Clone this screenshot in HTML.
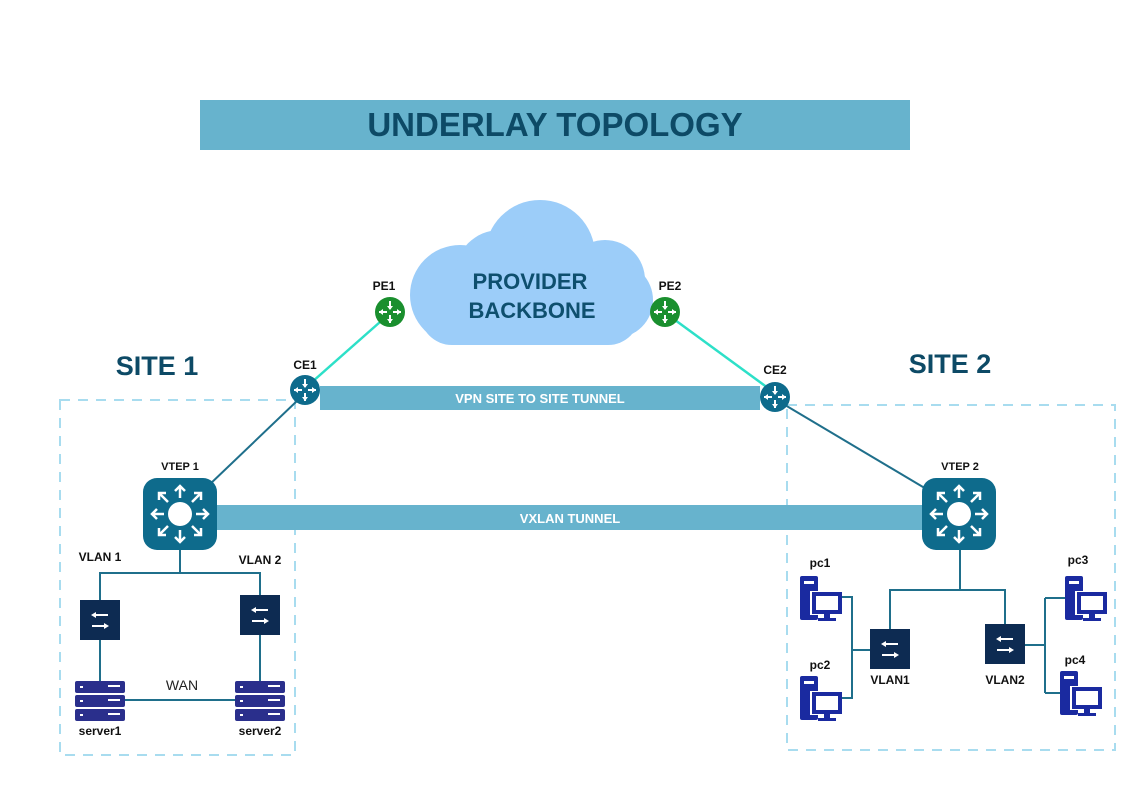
<!DOCTYPE html>
<html><head><meta charset="utf-8"><style>
html,body{margin:0;padding:0;background:#fff;}
svg{display:block;font-family:"Liberation Sans",Arial,sans-serif;}
</style></head><body>
<svg width="1123" height="794" viewBox="0 0 1123 794" xmlns="http://www.w3.org/2000/svg">
<defs>
<g id="router">
<circle r="15" />
<g stroke="#fff" stroke-width="2" fill="#fff">
<line x1="0" y1="-11" x2="0" y2="-3"/><path d="M-3,-6 L0,-2 L3,-6Z" stroke="none"/>
<line x1="0" y1="11" x2="0" y2="3"/><path d="M-3,7 L0,11 L3,7Z" stroke="none"/>
<line x1="-11" y1="0" x2="-3" y2="0"/><path d="M-7,-3 L-11,0 L-7,3Z" stroke="none"/>
<line x1="11" y1="0" x2="3" y2="0"/><path d="M7,-3 L11,0 L7,3Z" stroke="none"/>
</g>
</g>
<g id="vtep">
<rect x="-37" y="-36" width="74" height="72" rx="14" fill="#0e6b8c"/>
<circle r="12" fill="#fff"/>
<g stroke="#fff" stroke-width="2.5" fill="none">
<path d="M0,-16 L0,-28 M-5,-23 L0,-28 L5,-23"/>
<path d="M0,16 L0,28 M-5,23 L0,28 L5,23"/>
<path d="M-16,0 L-28,0 M-23,-5 L-28,0 L-23,5"/>
<path d="M16,0 L28,0 M23,-5 L28,0 L23,5"/>
<path d="M-12,-12 L-21,-21 M-21,-14 L-21,-21 L-14,-21"/>
<path d="M12,-12 L21,-21 M21,-14 L21,-21 L14,-21"/>
<path d="M-12,12 L-21,21 M-21,14 L-21,21 L-14,21"/>
<path d="M12,12 L21,21 M21,14 L21,21 L14,21"/>
</g>
</g>
<g id="sw">
<rect x="-20" y="-20" width="40" height="40" fill="#0d2b52"/>
<g stroke="#fff" stroke-width="2" fill="#fff">
<line x1="-7" y1="-5" x2="8" y2="-5"/><path d="M-9,-5 L-4,-8 L-4,-2Z" stroke="none"/>
<line x1="-8" y1="6" x2="7" y2="6"/><path d="M9,6 L4,3 L4,9Z" stroke="none"/>
</g>
</g>
<g id="srv">
<g fill="#2a2f8c">
<rect x="-25" y="-20" width="50" height="12" rx="2"/>
<rect x="-25" y="-6" width="50" height="12" rx="2"/>
<rect x="-25" y="8" width="50" height="12" rx="2"/>
</g>
<g fill="#fff">
<rect x="-20" y="-15" width="3" height="2"/><rect x="8" y="-16" width="12" height="2"/>
<rect x="-20" y="-1" width="3" height="2"/><rect x="8" y="-2" width="12" height="2"/>
<rect x="-20" y="13" width="3" height="2"/><rect x="8" y="12" width="12" height="2"/>
</g>
</g>
<g id="pc">
<rect x="0" y="0" width="18" height="44" rx="2" fill="#1a2aa0"/>
<rect x="4" y="5" width="10" height="3" fill="#fff"/>
<rect x="10" y="15" width="32" height="24" fill="#fff"/>
<rect x="12" y="16" width="30" height="22" fill="#1a2aa0"/>
<rect x="16" y="20" width="22" height="14" fill="#fff"/>
<rect x="24" y="38" width="6" height="5" fill="#1a2aa0"/>
<rect x="18" y="42" width="18" height="3" fill="#1a2aa0"/>
</g>
</defs>

<rect x="200" y="100" width="710" height="50" fill="#67b3cd"/>
<text x="555" y="136" text-anchor="middle" font-size="33" font-weight="bold" fill="#0d4a66">UNDERLAY TOPOLOGY</text>

<!-- cloud -->
<g fill="#9ccdf9">
<circle cx="540" cy="255" r="55"/>
<circle cx="460" cy="295" r="50"/>
<circle cx="605" cy="280" r="40"/>
<circle cx="615" cy="300" r="38"/>
<rect x="420" y="280" width="220" height="65" rx="32"/>
<circle cx="500" cy="275" r="45"/>
</g>
<text x="530" y="289" text-anchor="middle" font-size="22" font-weight="bold" fill="#0e4f6e">PROVIDER</text>
<text x="532" y="318" text-anchor="middle" font-size="22" font-weight="bold" fill="#0e4f6e">BACKBONE</text>

<!-- dashed boxes -->
<rect x="60" y="400" width="235" height="355" fill="none" stroke="#a8dcef" stroke-width="2" stroke-dasharray="10,8"/>
<rect x="787" y="405" width="328" height="345" fill="none" stroke="#a8dcef" stroke-width="2" stroke-dasharray="10,8"/>

<text x="157" y="375" text-anchor="middle" font-size="27" font-weight="bold" fill="#0d4a66">SITE 1</text>
<text x="950" y="373" text-anchor="middle" font-size="27" font-weight="bold" fill="#0d4a66">SITE 2</text>

<!-- links -->
<g stroke="#2de0c8" stroke-width="2.5">
<line x1="380" y1="322" x2="312" y2="382"/>
<line x1="675" y1="320" x2="768" y2="388"/>
</g>
<g stroke="#1f6f8b" stroke-width="2" fill="none">
<line x1="298" y1="400" x2="208" y2="486"/>
<line x1="785" y1="405" x2="928" y2="490"/>
<path d="M180,550 V573 H100 V600 M180,573 H260 V595"/>
<path d="M100,640 V681 M260,635 V681 M125,700 H240"/>
<path d="M960,550 V590 H890 V630 M960,590 H1005 V625"/>
<path d="M840,597 H852 V698 H840 M852,650 H870"/>
<path d="M1025,645 H1045 M1045,598 V693 M1045,598 H1065 M1045,693 H1062"/>
</g>

<!-- VPN bar -->
<rect x="320" y="386" width="440" height="24" fill="#67b3cd"/>
<text x="540" y="403" text-anchor="middle" font-size="13" font-weight="bold" fill="#fff">VPN SITE TO SITE TUNNEL</text>
<!-- VXLAN bar -->
<rect x="215" y="505" width="710" height="25" fill="#67b3cd"/>
<text x="570" y="523" text-anchor="middle" font-size="13" font-weight="bold" fill="#fff">VXLAN TUNNEL</text>

<use href="#router" x="390" y="312" fill="#1a8f2e"/>
<use href="#router" x="665" y="312" fill="#1a8f2e"/>
<use href="#router" x="305" y="390" fill="#0e6b8c"/>
<use href="#router" x="775" y="397" fill="#0e6b8c"/>
<g font-size="12" font-weight="bold" fill="#111" text-anchor="middle">
<text x="384" y="290">PE1</text>
<text x="670" y="290">PE2</text>
<text x="305" y="369">CE1</text>
<text x="775" y="374">CE2</text>
<text x="180" y="470" font-size="11">VTEP 1</text>
<text x="960" y="470" font-size="11">VTEP 2</text>
<text x="100" y="561">VLAN 1</text>
<text x="260" y="564">VLAN 2</text>
<text x="100" y="735">server1</text>
<text x="260" y="735">server2</text>
<text x="890" y="684">VLAN1</text>
<text x="1005" y="684">VLAN2</text>
<text x="820" y="567">pc1</text>
<text x="820" y="669">pc2</text>
<text x="1078" y="564">pc3</text>
<text x="1075" y="664">pc4</text>
</g>
<text x="182" y="690" text-anchor="middle" font-size="14" fill="#222">WAN</text>

<use href="#vtep" x="180" y="514"/>
<use href="#vtep" x="959" y="514"/>
<use href="#sw" x="100" y="620"/>
<use href="#sw" x="260" y="615"/>
<use href="#sw" x="890" y="649"/>
<use href="#sw" x="1005" y="644"/>
<use href="#srv" x="100" y="701"/>
<use href="#srv" x="260" y="701"/>
<use href="#pc" x="800" y="576"/>
<use href="#pc" x="800" y="676"/>
<use href="#pc" x="1065" y="576"/>
<use href="#pc" x="1060" y="671"/>
</svg>
</body></html>
